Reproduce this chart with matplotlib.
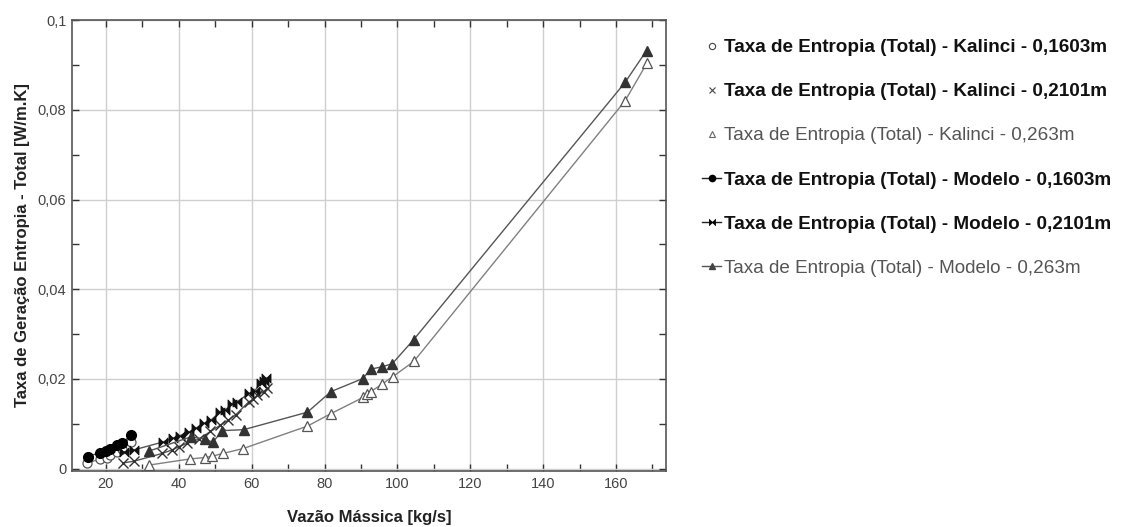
import matplotlib
matplotlib.use("Agg")
import matplotlib.pyplot as plt
from matplotlib.path import Path
from matplotlib.lines import Line2D
from matplotlib.ticker import MultipleLocator, FuncFormatter

plt.rcParams['font.family'] = ['Liberation Sans', 'DejaVu Sans']

# ---- data ----
k1603_x = [14.9, 18.3, 20.2, 21.2, 23.0, 24.5, 27.0]
k1603_y = [0.0013, 0.0021, 0.0025, 0.0030, 0.0038, 0.0045, 0.0060]

k2101_x = [24.8, 27.8, 35.4, 38.2, 40.0, 42.3, 45.5, 48.7, 51.4, 53.5, 55.6, 59.2, 60.5, 61.5, 63.4, 64.2]
k2101_y = [0.0013, 0.0017, 0.0034, 0.0042, 0.0049, 0.0057, 0.0066, 0.0083, 0.0097, 0.0108, 0.0120, 0.0149, 0.0155, 0.0164, 0.0172, 0.0179]

k263_x = [31.7, 43.2, 47.3, 49.2, 52.1, 57.7, 75.3, 81.8, 90.6, 91.8, 92.7, 95.7, 98.7, 104.5, 162.5, 168.5]
k263_y = [0.0008, 0.0022, 0.0025, 0.0028, 0.0034, 0.0045, 0.0095, 0.0123, 0.0159, 0.0167, 0.0172, 0.0188, 0.0205, 0.0239, 0.0820, 0.0904]

m1603_x = [15.0, 18.3, 19.9, 21.0, 23.0, 24.5, 27.0]
m1603_y = [0.0027, 0.0036, 0.0040, 0.0043, 0.0052, 0.0058, 0.0075]

m2101_x = [25.0, 27.7, 35.8, 38.4, 40.4, 42.8, 44.6, 46.9, 48.9, 51.4, 52.8, 54.6, 56.0, 59.3, 60.8, 62.5, 63.5, 64.0]
m2101_y = [0.0038, 0.0042, 0.0060, 0.0068, 0.0074, 0.0082, 0.0090, 0.0101, 0.0109, 0.0127, 0.0131, 0.0145, 0.0149, 0.0168, 0.0173, 0.0192, 0.0196, 0.0202]

m263_x = [31.7, 43.3, 47.3, 49.3, 52.0, 57.8, 75.3, 81.8, 90.5, 92.7, 95.7, 98.6, 104.5, 162.5, 168.4]
m263_y = [0.0039, 0.0071, 0.0066, 0.0059, 0.0085, 0.0087, 0.0126, 0.0172, 0.0201, 0.0222, 0.0227, 0.0234, 0.0288, 0.0861, 0.0932]

labels = [
    "Taxa de Entropia (Total) - Kalinci - 0,1603m",
    "Taxa de Entropia (Total) - Kalinci - 0,2101m",
    "Taxa de Entropia (Total) - Kalinci - 0,263m",
    "Taxa de Entropia (Total) - Modelo - 0,1603m",
    "Taxa de Entropia (Total) - Modelo - 0,2101m",
    "Taxa de Entropia (Total) - Modelo - 0,263m",
]
x_ticks = [20, 40, 60, 80, 100, 120, 140, 160]
y_ticks = [0, 0.02, 0.04, 0.06, 0.08, 0.1]

# bowtie marker
bowtie = Path([(-1, -1), (0, 0), (-1, 1), (-1, -1), (1, -1), (0, 0), (1, 1), (1, -1)],
              [Path.MOVETO, Path.LINETO, Path.LINETO, Path.CLOSEPOLY,
               Path.MOVETO, Path.LINETO, Path.LINETO, Path.CLOSEPOLY])

fig = plt.figure(figsize=(11.29, 5.27), dpi=100)
ax = fig.add_axes([0.0638, 0.1063, 0.526, 0.8557])

kline = dict(color='#808080', lw=1.0)
mline = dict(color='#555555', lw=1.0)

ax.plot(k1603_x, k1603_y, marker='o', ms=6.5, mfc='white', mec='#555555', mew=0.9, zorder=3, **kline)
ax.plot(k2101_x, k2101_y, marker='x', ms=6.5, mec='#333333', mew=1.0, zorder=3, **mline)
ax.plot(k263_x, k263_y, marker='^', ms=6.5, mfc='white', mec='#555555', mew=0.9, zorder=3, **kline)
ax.plot(m1603_x, m1603_y, marker='o', ms=7, mfc='black', mec='black', zorder=4, **mline)
ax.plot(m2101_x, m2101_y, marker=bowtie, ms=6.5, mfc='#111111', mec='#111111', mew=0.6, zorder=4, **mline)
ax.plot(m263_x, m263_y, marker='^', ms=7, mfc='#333333', mec='#333333', zorder=4, **mline)

ax.set_xlim(10.7, 173.7)
ax.set_ylim(-0.0005, 0.1)
ax.set_xticks(x_ticks)
ax.set_yticks(y_ticks)
ax.xaxis.set_minor_locator(MultipleLocator(10))
ax.yaxis.set_minor_locator(MultipleLocator(0.01))

def yfmt(v, pos):
    s = ('%.2f' % v).rstrip('0').rstrip('.')
    return s.replace('.', ',')
ax.yaxis.set_major_formatter(FuncFormatter(yfmt))

ax.grid(True, which='major', color='#cfcfcf', lw=1.0)
ax.set_axisbelow(True)
ax.tick_params(which='both', direction='in', top=True, right=True, length=5, width=1,
               color='#333333', labelsize=10.5, labelcolor='#444444', pad=4)
for s in ax.spines.values():
    s.set_color('#555555')
    s.set_linewidth(1.2)

ax.set_xlabel("Vazão Mássica [kg/s]", fontsize=12, fontweight='bold', color='#222222', labelpad=14)
ax.set_ylabel("Taxa de Geração Entropia - Total [W/m.K]", fontsize=12, fontweight='bold', color='#222222', labelpad=6)

handles = [
    Line2D([], [], ls='none', marker='o', ms=4.5, mfc='white', mec='#444444', mew=0.8),
    Line2D([], [], ls='none', marker='x', ms=5, mec='#444444', mew=0.8),
    Line2D([], [], ls='none', marker='^', ms=4.5, mfc='white', mec='#666666', mew=0.8),
    Line2D([], [], color='#222222', lw=1, marker='o', ms=4.5, mfc='black', mec='black'),
    Line2D([], [], color='#222222', lw=1, marker=bowtie, ms=4.5, mfc='black', mec='black', mew=0.5),
    Line2D([], [], color='#555555', lw=1, marker='^', ms=4.5, mfc='#444444', mec='#444444'),
]
leg = fig.legend(handles, labels, loc='upper left', bbox_to_anchor=(0.6155, 0.94), frameon=False,
                 fontsize=13.6, labelspacing=1.42, handlelength=1.0, handletextpad=0.15,
                 borderaxespad=0)
colors = ['#111111', '#111111', '#555555', '#111111', '#111111', '#555555']
weights = ['bold', 'bold', 'normal', 'bold', 'bold', 'normal']
for t, c, w in zip(leg.get_texts(), colors, weights):
    t.set_color(c)
    t.set_fontweight(w)

fig.savefig('out.png', dpi=100)
